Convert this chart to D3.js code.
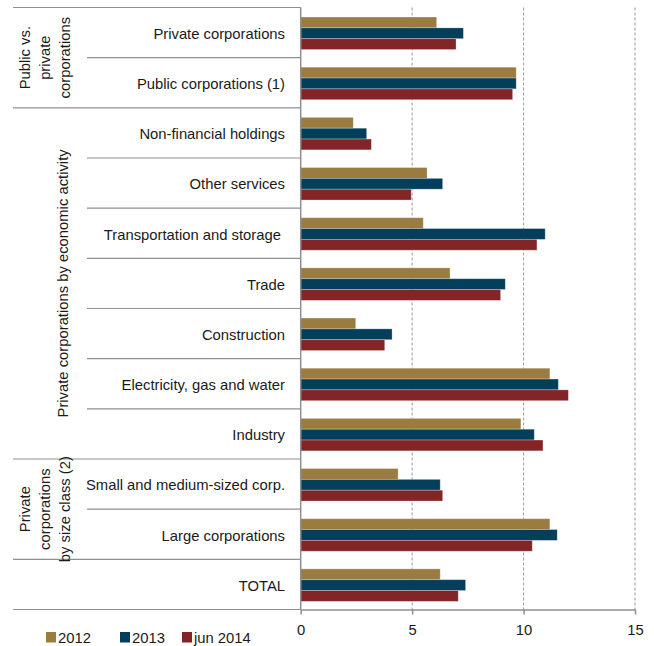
<!DOCTYPE html>
<html>
<head>
<meta charset="utf-8">
<script src="https://cdn.jsdelivr.net/npm/d3@7"></script>
<style>
  html, body { margin: 0; padding: 0; background: #fff; }
  svg { display: block; font-family: "Liberation Sans", Arial, sans-serif; }
</style>
</head>
<body>
<svg id="chart" width="654" height="646"></svg>
<script>
// Categories, top to bottom
const categories = [
  "Private corporations",
  "Public corporations (1)",
  "Non-financial holdings",
  "Other services",
  "Transportation and storage ",
  "Trade",
  "Construction",
  "Electricity, gas and water",
  "Industry",
  "Small and medium-sized corp.",
  "Large corporations",
  "TOTAL"
];
const seriesNames = ["2012", "2013", "jun 2014"];
const values2012    = [6.10, 9.67, 2.36, 5.67, 5.50, 6.70, 2.47, 11.18, 9.88, 4.37, 11.18, 6.26];
const values2013    = [7.30, 9.67, 2.96, 6.37, 10.97, 9.18, 4.10, 11.56, 10.48, 6.26, 11.51, 7.40];
const valuesJun2014 = [6.97, 9.51, 3.17, 4.96, 10.60, 8.97, 3.77, 12.01, 10.87, 6.37, 10.39, 7.07];
const xTicks = [0, 5, 10, 15];

// Group headings (first/last category index covered)
const groupLines = [
  ["Public vs.", "private", "corporations"],
  ["Private corporations by economic activity"],
  ["Private", "corporations", "by size class (2)"]
];
const groupFirst = [0, 2, 9];
const groupLast  = [1, 8, 10];

const colors = ["#9a7c40", "#033f5b", "#832427"];
const seriesValues = [values2012, values2013, valuesJun2014];

const svg = d3.select("#chart");
const textColor = "#1a1a1a";
const lineColor = "#8f8f8f";
const fontSize = 14.8;

const x = d3.scaleLinear().domain([0, 15]).range([300.7, 635]);
const y = d3.scaleBand().domain(categories).range([7.5, 609.5]).padding(0);
const bw = y.bandwidth();
const sub = d3.scaleBand().domain(seriesNames)
  .range([bw * 0.19, bw * 0.19 + bw * 0.648]).padding(0);

const yTop = y.range()[0], yBottom = y.range()[1];

// Dashed vertical gridlines
svg.append("g").selectAll("line")
  .data(xTicks.filter(t => t > 0))
  .join("line")
  .attr("x1", d => x(d)).attr("x2", d => x(d))
  .attr("y1", yTop).attr("y2", yBottom)
  .attr("stroke", "#9a9a9a").attr("stroke-width", 1)
  .attr("stroke-dasharray", "3,2");

// Row separators in the label column
const longBreaks = new Set([0, 2, 9, 11, 12]);
const boundaries = d3.range(categories.length + 1);
svg.append("g").selectAll("line")
  .data(boundaries)
  .join("line")
  .attr("x1", d => longBreaks.has(d) ? 13 : 87)
  .attr("x2", x(0))
  .attr("y1", d => yTop + d * bw).attr("y2", d => yTop + d * bw)
  .attr("stroke", lineColor).attr("stroke-width", 1.2);

// Bars
const rows = svg.append("g").selectAll("g")
  .data(categories)
  .join("g")
  .attr("transform", c => `translate(0,${y(c)})`);

rows.selectAll("rect")
  .data((c, i) => seriesNames.map((s, k) => ({ s, k, v: seriesValues[k][i] })))
  .join("rect")
  .attr("x", x(0))
  .attr("y", d => sub(d.s))
  .attr("width", d => x(d.v) - x(0))
  .attr("height", sub.bandwidth())
  .attr("fill", d => colors[d.k])
  .attr("stroke", "rgba(255,255,255,0.35)")
  .attr("stroke-width", 0.8);

// Vertical axis line
svg.append("line")
  .attr("x1", x(0)).attr("x2", x(0)).attr("y1", yTop).attr("y2", yBottom)
  .attr("stroke", lineColor).attr("stroke-width", 1.5);

// Horizontal axis
const xAxis = svg.append("g")
  .attr("transform", `translate(0,${yBottom})`)
  .call(d3.axisBottom(x).tickValues(xTicks).tickSize(5).tickPadding(10).tickSizeOuter(0));
xAxis.select(".domain").attr("stroke", lineColor).attr("stroke-width", 1.5);
xAxis.selectAll(".tick line").attr("stroke", lineColor).attr("stroke-width", 1.5);
xAxis.selectAll(".tick text")
  .attr("fill", textColor)
  .style("font-family", "'Liberation Sans', Arial, sans-serif")
  .style("font-size", fontSize + "px");

// Category labels
svg.append("g").selectAll("text")
  .data(categories)
  .join("text")
  .attr("x", 285)
  .attr("y", c => y(c) + bw / 2 + 2.5)
  .attr("text-anchor", "end")
  .attr("dominant-baseline", "middle")
  .attr("fill", textColor)
  .style("font-size", fontSize + "px")
  .style("white-space", "pre")
  .text(c => c);

// Rotated group headings
const lineStep = 20;
groupLines.forEach((lines, gi) => {
  const y0 = yTop + groupFirst[gi] * bw;
  const y1 = yTop + (groupLast[gi] + 1) * bw;
  const cy = (y0 + y1) / 2;
  const n = lines.length;
  const cx0 = n === 1 ? 64 : 26;
  svg.append("g").selectAll("text")
    .data(lines)
    .join("text")
    .attr("transform", (d, j) => `translate(${cx0 + j * lineStep},${cy}) rotate(-90)`)
    .attr("text-anchor", "middle")
    .attr("dominant-baseline", "middle")
    .attr("fill", textColor)
    .style("font-size", fontSize + "px")
    .text(d => d);
});

// Legend
const legendX = [46, 120, 182];
const legend = svg.append("g").selectAll("g")
  .data(seriesNames)
  .join("g")
  .attr("transform", (d, i) => `translate(${legendX[i]},632)`);
legend.append("rect")
  .attr("width", 10).attr("height", 10.5)
  .attr("fill", (d, i) => colors[i]);
legend.append("text")
  .attr("x", 12).attr("y", 10.5)
  .attr("fill", textColor)
  .style("font-size", fontSize + "px")
  .text(d => d);
</script>
</body>
</html>
